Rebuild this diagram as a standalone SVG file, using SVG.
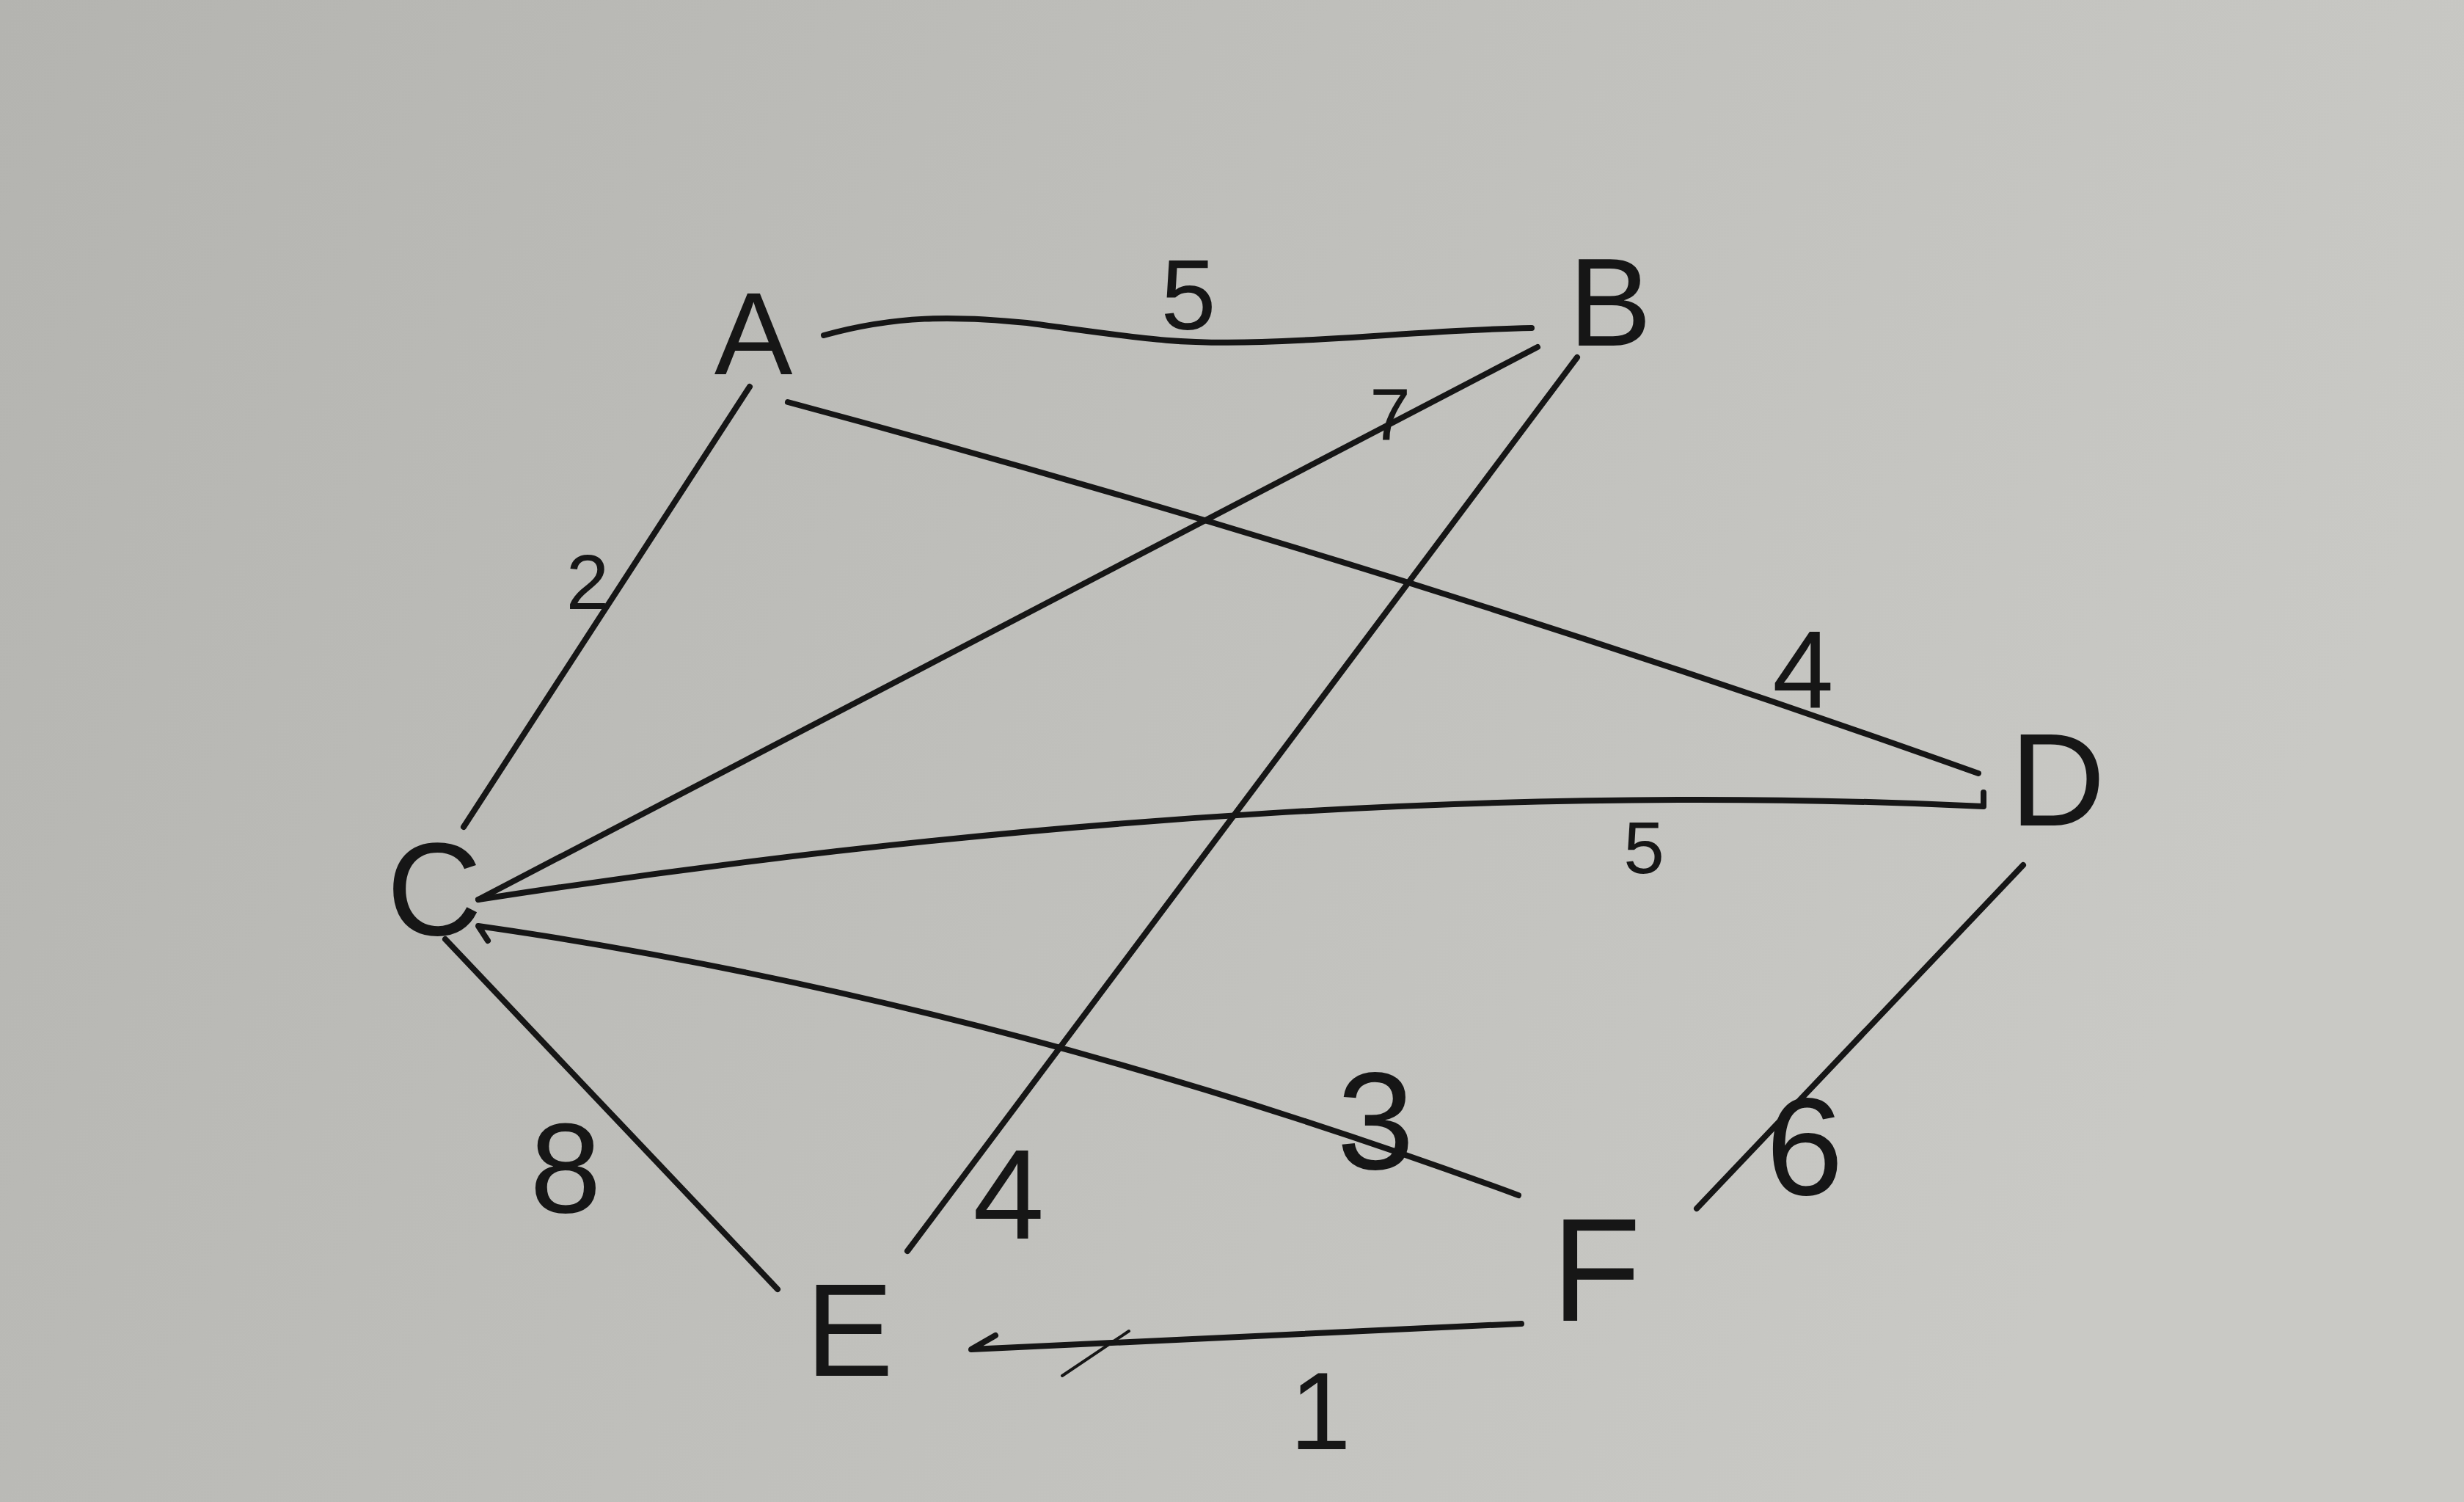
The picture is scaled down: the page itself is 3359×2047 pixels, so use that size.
<svg xmlns="http://www.w3.org/2000/svg" width="3359" height="2047" viewBox="0 0 3359 2047">
<defs>
<linearGradient id="paper" x1="0" y1="0" x2="1" y2="0.3">
<stop offset="0" stop-color="#b4b4b0"/>
<stop offset="0.5" stop-color="#bfbfbb"/>
<stop offset="1" stop-color="#c9c9c5"/>
</linearGradient>
<style>
.edge{fill:none;stroke:#161616;stroke-width:8;stroke-linecap:round;stroke-linejoin:round}
.node text{font-family:"Liberation Sans",Arial,sans-serif;fill:#161616;text-anchor:middle}
.lbl{font-family:"Liberation Sans",Arial,sans-serif;fill:#161616;text-anchor:middle}
</style>
</defs>
<rect x="0" y="0" width="3359" height="2047" fill="url(#paper)"/>
<g id="connectors">
<path id="e-A-B" class="edge" d="M1123,457 C1220,430 1300,430 1400,440 C1550,460 1600,470 1720,466 C1850,462 1950,450 2088,447"/>
<path id="e-A-D" class="edge" d="M1074,548 Q1900,770 2697,1054"/>
<path id="e-A-C" class="edge" d="M1022,527 L632,1127"/>
<path id="e-C-B" class="edge" d="M652,1226 L2096,473"/>
<path id="e-B-E" class="edge" d="M2150,487 L1237,1705"/>
<path id="e-C-D" class="edge" d="M652,1226 C1400,1110 2100,1070 2704,1099 L2704,1080"/>
<path id="e-F-C" class="edge" d="M2070,1629 Q1340,1360 652,1262 L665,1282"/>
<path id="e-C-E" class="edge" d="M607,1280 L1060,1757"/>
<path id="e-D-F" class="edge" d="M2758,1179 L2313,1647"/>
<path id="e-F-E" class="edge" d="M2074,1804 L1324,1839 L1357,1820"/>
<path class="edge" style="stroke-width:4" d="M1448,1875 L1539,1814"/>
</g>
<g id="labels">
<text class="lbl" x="1620" y="449" font-size="135">5</text>
<text class="lbl" x="1895" y="600" font-size="100">7</text>
<text class="lbl" x="801" y="830" font-size="105">2</text>
<text class="lbl" x="2458" y="964" font-size="150">4</text>
<text class="lbl" x="2241" y="1190" font-size="100">5</text>
<text class="lbl" x="1875" y="1593" font-size="190">3</text>
<text class="lbl" x="1375" y="1688" font-size="175">4</text>
<text class="lbl" x="771" y="1652" font-size="175">8</text>
<text class="lbl" x="2460" y="1628" font-size="190">6</text>
<text class="lbl" x="1800" y="1975" font-size="150">1</text>
</g>
<g id="node-A" class="node"><text x="1027" y="510" font-size="160">A</text></g>
<g id="node-B" class="node"><text x="2195" y="471" font-size="170">B</text></g>
<g id="node-C" class="node"><text x="592" y="1274" font-size="180">C</text></g>
<g id="node-D" class="node"><text x="2805" y="1125" font-size="180">D</text></g>
<g id="node-E" class="node"><text x="1158" y="1875" font-size="180">E</text></g>
<g id="node-F" class="node"><text x="2176" y="1800" font-size="200">F</text></g>
</svg>
